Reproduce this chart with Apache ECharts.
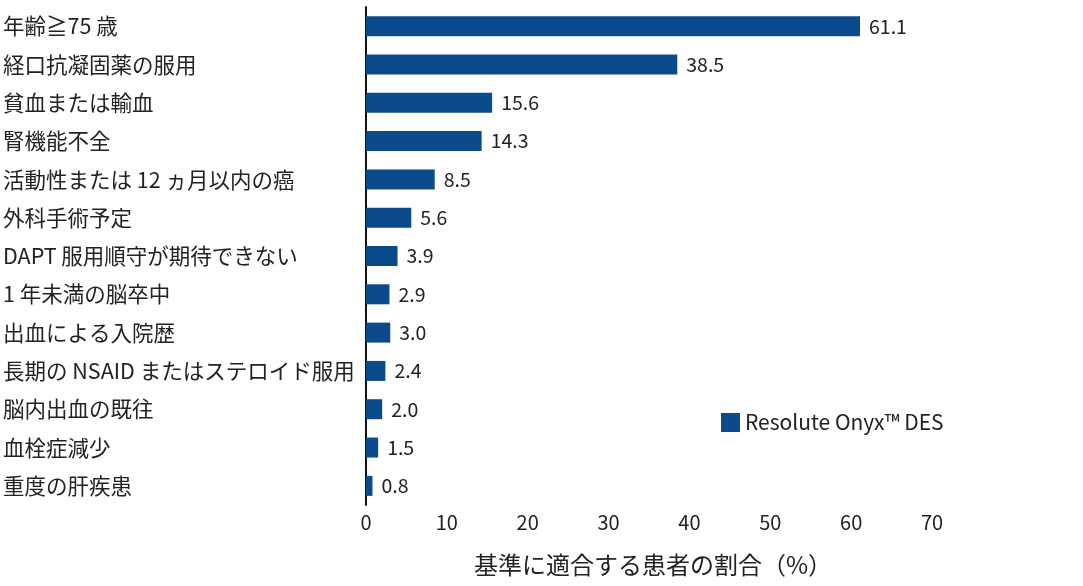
<!DOCTYPE html>
<html><head><meta charset="utf-8">
<script src="https://cdn.jsdelivr.net/npm/echarts@6/dist/echarts.min.js"></script>
<style>html,body{margin:0;padding:0;background:#fff}#c{width:1083px;height:586px}</style>
</head><body><div id="c"></div>
<script>
const categories = ["年齢≧75 歳","経口抗凝固薬の服用","貧血または輸血","腎機能不全","活動性または 12 ヵ月以内の癌","外科手術予定","DAPT 服用順守が期待できない","1 年未満の脳卒中","出血による入院歴","長期の NSAID またはステロイド服用","脳内出血の既往","血栓症減少","重度の肝疾患"];
const values = [61.1,38.5,15.6,14.3,8.5,5.6,3.9,2.9,3.0,2.4,2.0,1.5,0.8];
const seriesName = "Resolute Onyx™ DES";
const axisTitle = "基準に適合する患者の割合（%）";
const font = "'Noto Sans CJK JP','Noto Sans',sans-serif";
const chart = echarts.init(document.getElementById('c'));
chart.setOption({
  animation:false,
  grid:{left:363,right:151,top:7,bottom:81,containLabel:false},
  legend:{data:[seriesName],left:716,top:407,itemWidth:19,itemHeight:19,icon:'rect',itemGap:6,
    textStyle:{fontFamily:font,fontSize:21,color:'#222'}},
  xAxis:{type:'value',min:0,max:70,interval:10,
    axisLine:{show:false},axisTick:{show:false},splitLine:{show:false},
    axisLabel:{fontFamily:font,fontSize:20,color:'#222',margin:7},
    name:axisTitle,nameLocation:'middle',nameGap:48,
    nameTextStyle:{fontFamily:font,fontSize:24,color:'#222',padding:[0,0,0,8]}},
  yAxis:{type:'category',data:categories,inverse:true,
    axisLine:{show:true,lineStyle:{color:'#111',width:2}},axisTick:{show:false},
    axisLabel:{fontFamily:font,fontSize:21.5,color:'#222',align:'left',margin:363}},
  series:[{name:seriesName,type:'bar',data:values,barWidth:20,
    itemStyle:{color:'#0b4a8b'},
    label:{show:true,position:'right',distance:9,fontFamily:font,fontSize:19.5,color:'#222',
      formatter:p=>p.value.toFixed(1)}}]
});
</script></body></html>
